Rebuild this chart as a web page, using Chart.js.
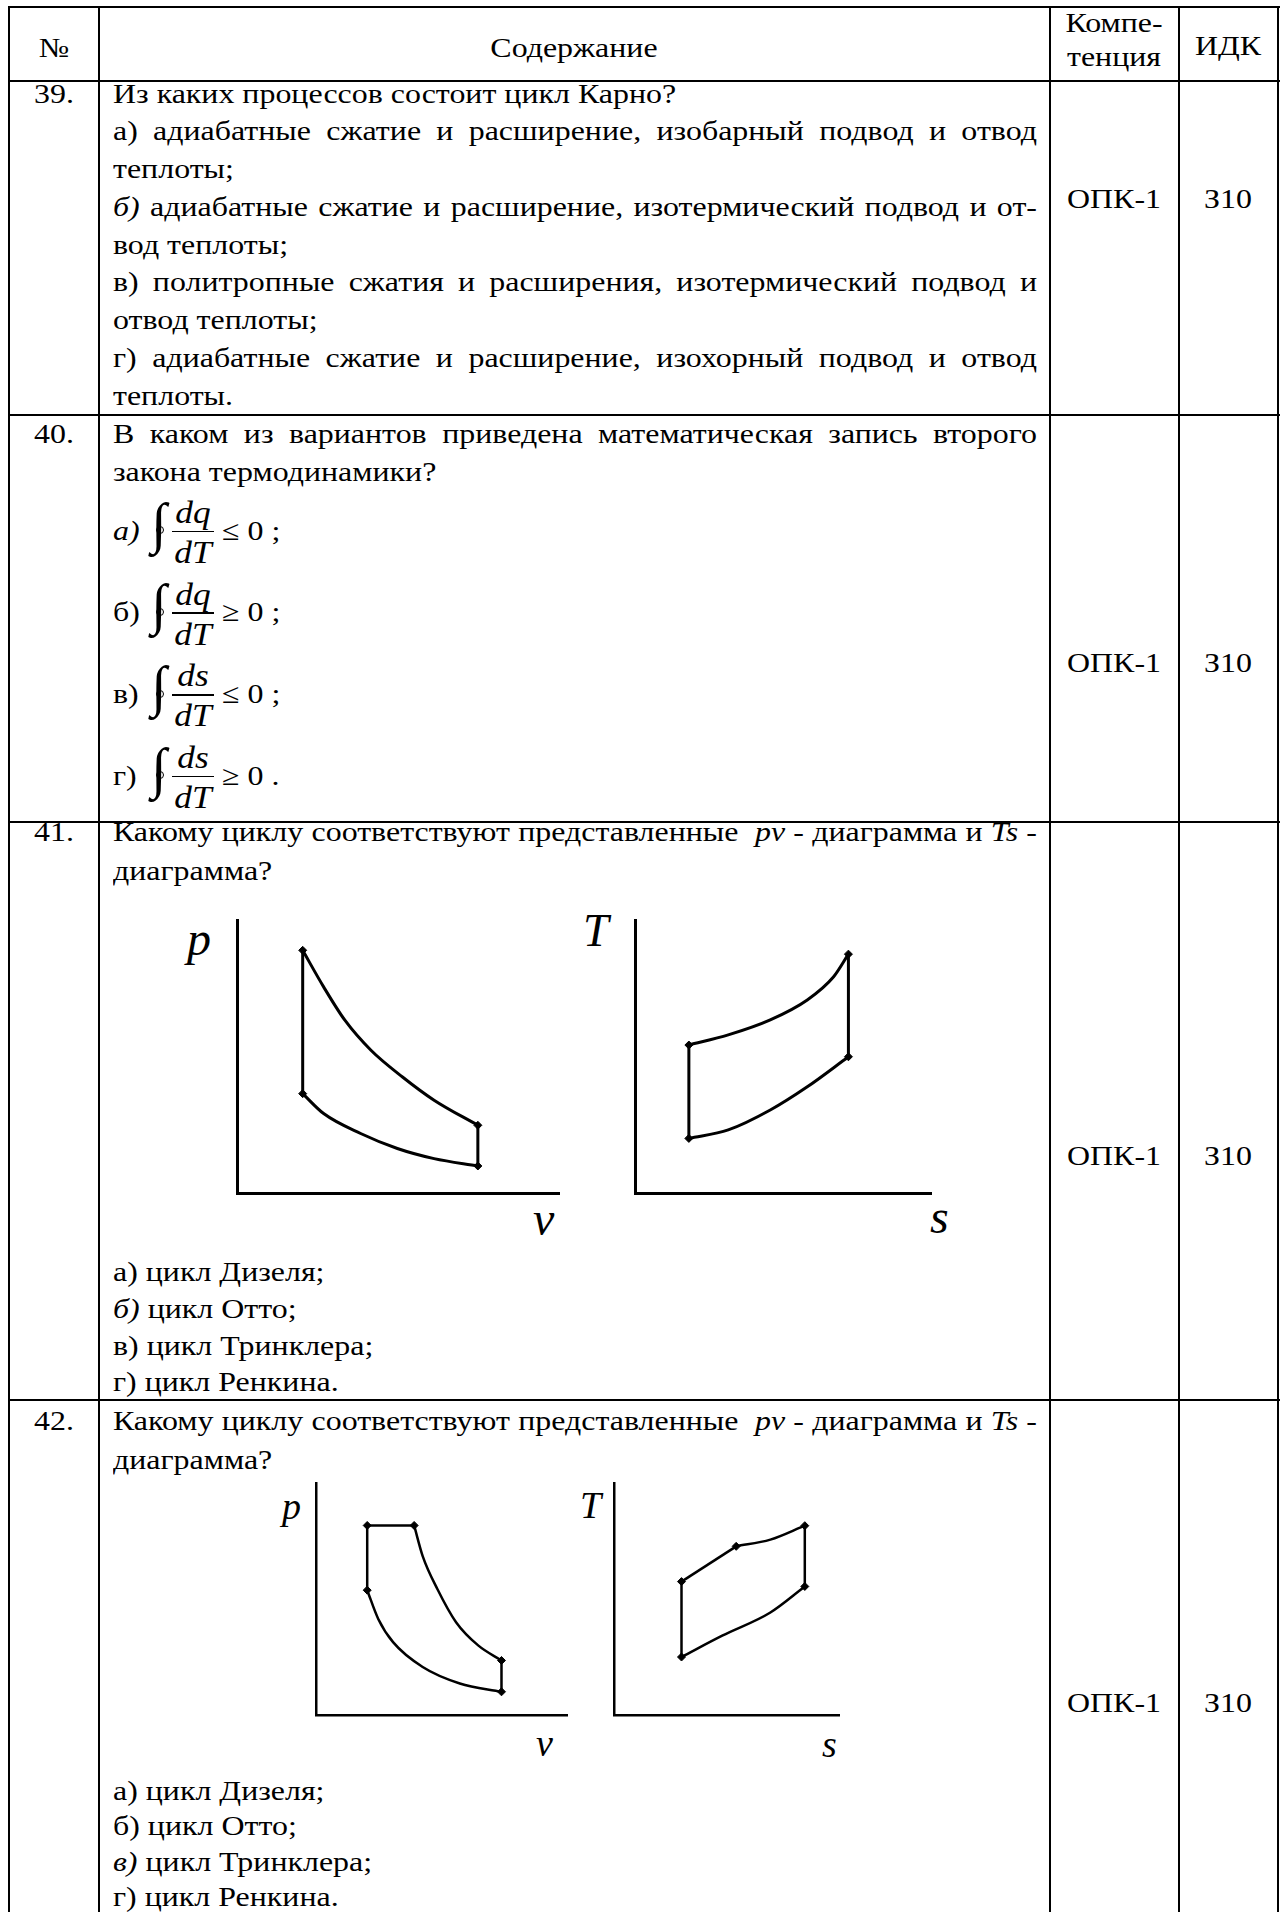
<!DOCTYPE html>
<html>
<head>
<meta charset="utf-8">
<script src="https://cdn.jsdelivr.net/npm/chart.js@4.4.0/dist/chart.umd.min.js"></script>
<style>
html, body { margin: 0; padding: 0; background: #fff; }
body { width: 1287px; height: 1912px; position: relative; overflow: hidden;
       font-family: "Liberation Serif", "Times New Roman", serif; color: #000; }
.hl { position: absolute; height: 2px; background: #000; }
.vl { position: absolute; width: 2px; background: #000; }
.t { position: absolute; white-space: nowrap; }
.j { white-space: normal; text-align: justify; text-align-last: justify; }
.ring { position: absolute; width: 6px; height: 6px; border: 1.6px solid #000; border-radius: 50%; }
.chart { position: absolute; }
</style>
</head>
<body>
<div id="page"></div>
<script>
// Otto cycle (question 41), pv-diagram
var ottoPvCorners = [[2.04, 8.89], [2.04, 3.64], [7.48, 2.48], [7.48, 0.99]];
var ottoPvExpansion = [[2.04, 8.89], [2.69, 7.55], [3.35, 6.33], [4.16, 5.23], [5.14, 4.25], [6.12, 3.40], [7.48, 2.48]];
var ottoPvCompression = [[2.04, 3.64], [2.69, 2.91], [3.84, 2.18], [4.98, 1.63], [6.12, 1.26], [7.48, 0.99]];

// Otto cycle, Ts-diagram
var ottoTsCorners = [[1.82, 5.42], [7.21, 8.75], [7.21, 4.99], [1.82, 2.00]];
var ottoTsHeatIn = [[1.82, 5.42], [3.15, 5.79], [4.57, 6.34], [5.82, 7.07], [6.71, 7.92], [7.21, 8.75]];
var ottoTsHeatOut = [[1.82, 2.00], [3.15, 2.31], [4.57, 3.04], [5.82, 3.89], [7.21, 4.99]];

// Trinkler cycle (question 42), pv-diagram
var trinklerPvCorners = [[2.04, 8.17], [3.91, 8.17], [7.39, 2.35], [7.39, 1.00], [2.04, 5.38]];
var trinklerPvExpansion = [[3.91, 8.17], [4.25, 6.85], [4.84, 5.42], [5.58, 4.00], [6.46, 3.00], [7.39, 2.35]];
var trinklerPvCompression = [[2.04, 5.38], [2.48, 4.14], [3.07, 3.14], [4.25, 2.07], [5.73, 1.36], [7.39, 1.00]];

// Trinkler cycle, Ts-diagram
var trinklerTsCorners = [[3.00, 5.75], [5.43, 7.27], [8.48, 8.16], [8.48, 5.54], [3.00, 2.50]];
var trinklerTsIsobar = [[5.43, 7.27], [6.95, 7.56], [8.48, 8.16]];
var trinklerTsHeatOut = [[3.00, 2.50], [4.81, 3.42], [6.95, 4.42], [8.48, 5.54]];

var page = document.getElementById("page");
var FS = 28;     // glyph height of the body text
var SX = 1.14;   // the scan is a bit wider than tall

function put(html, x, base, o) {
    o = o || {};
    var fs = o.size || FS;
    var sx = o.plain ? 1 : SX;
    var d = document.createElement("div");
    d.className = "t" + (o.cls ? " " + o.cls : "");
    d.style.fontSize = fs + "px";
    d.style.lineHeight = fs + "px";
    d.style.top = (base - (o.asc || 0.8375) * fs) + "px";
    if (o.center !== undefined) {
        d.style.left = (o.center - 150) + "px";
        d.style.width = "300px";
        d.style.textAlign = "center";
        d.style.transformOrigin = "50% 0";
    } else {
        d.style.left = x + "px";
        d.style.transformOrigin = "0 0";
    }
    if (o.width) d.style.width = (o.width / sx) + "px";
    if (o.font) d.style.fontFamily = o.font;
    if (sx !== 1) d.style.transform = "scaleX(" + sx + ")";
    d.innerHTML = html;
    page.appendChild(d);
    return d;
}
function hline(y, x1, x2, h) {
    var d = document.createElement("div");
    d.className = "hl";
    h = h || 2;
    d.style.left = x1 + "px"; d.style.top = (y - h / 2) + "px";
    d.style.width = (x2 - x1 + 2) + "px"; d.style.height = h + "px";
    page.appendChild(d);
}
function vline(x, y1, y2) {
    var d = document.createElement("div");
    d.className = "vl";
    d.style.left = (x - 1) + "px"; d.style.top = y1 + "px"; d.style.height = (y2 - y1) + "px";
    page.appendChild(d);
}

// table grid
[7, 81, 415, 821.5, 1400].forEach(function (y) { hline(y, 8, 1278); });
[9, 99, 1050, 1179, 1278].forEach(function (x) { vline(x, 6, 1912); });

// header
put("№", 0, 57, { center: 54 });
put("Содержание", 0, 57, { center: 574 });
put("Компе-", 0, 32, { center: 1114 });
put("тенция", 0, 66, { center: 1114 });
put("ИДК", 0, 55, { center: 1228 });

var L = 113, W = 924, J = { cls: "j", width: W };

// 39
put("39.", 0, 103, { center: 54 });
var q39 = [
    ["Из каких процессов состоит цикл Карно?", false],
    ["а) адиабатные сжатие и расширение, изобарный подвод и отвод", true],
    ["теплоты;", false],
    ["<i>б)</i> адиабатные сжатие и расширение, изотермический подвод и от-", true],
    ["вод теплоты;", false],
    ["в) политропные сжатия и расширения, изотермический подвод и", true],
    ["отвод теплоты;", false],
    ["г) адиабатные сжатие и расширение, изохорный подвод и отвод", true],
    ["теплоты.", false]
];
q39.forEach(function (ln, k) { put(ln[0], L, 103 + k * 37.75, ln[1] ? J : {}); });

// 40
put("40.", 0, 443, { center: 54 });
put("В каком из вариантов приведена математическая запись второго", L, 443, J);
put("закона термодинамики?", L, 481.5);
function formula(label, num, rel, end, B) {
    put(label, L, B);
    put("∫", 151, B + 1.5, { size: 56, plain: true });
    var r = document.createElement("div");
    r.className = "ring";
    r.style.left = "155.5px"; r.style.top = (B - 13.6) + "px";
    page.appendChild(r);
    put("<i>" + num + "</i>", 0, B - 17, { center: 192.5, size: 31 });
    hline(B - 8.5, 172, 212, 1.6);
    put("<i>dT</i>", 0, B + 23, { center: 192.5, size: 31 });
    put(rel + " 0 " + end, 222, B);
}
formula("<i>а)</i>", "dq", "≤", ";", 540);
formula("б)", "dq", "≥", ";", 621.7);
formula("в)", "ds", "≤", ";", 703.3);
formula("г)", "ds", "≥", ".", 785);

// 41
var askLine = "Какому циклу соответствуют представленные&nbsp; <i>pv</i> - диаграмма и <i>Ts</i> -";
put("41.", 0, 841, { center: 54 });
put(askLine, L, 841, J);
put("диаграмма?", L, 880);
put("а) цикл Дизеля;", L, 1281.7);
put("<i>б)</i> цикл Отто;", L, 1318);
put("в) цикл Тринклера;", L, 1355);
put("г) цикл Ренкина.", L, 1391.7);

// 42
put("42.", 0, 1430, { center: 54 });
put(askLine, L, 1430, J);
put("диаграмма?", L, 1469);
put("а) цикл Дизеля;", L, 1800);
put("б) цикл Отто;", L, 1835);
put("<i>в)</i> цикл Тринклера;", L, 1871.7);
put("г) цикл Ренкина.", L, 1906.7);

// competence / indicator columns
[208, 672, 1165, 1712].forEach(function (b) {
    put("ОПК-1", 0, b, { center: 1114 });
    put("З10", 0, b, { center: 1228 });
});

// axis letters
put("<i>p</i>", 187, 955, { size: 48, plain: true });
put("<i>v</i>", 533, 1235, { size: 48, plain: true });
put("<i>T</i>", 583, 947, { size: 46, plain: true });
put("<i>s</i>", 930, 1233, { size: 48, plain: true });
put("<i>p</i>", 282, 1519, { size: 38, plain: true });
put("<i>v</i>", 536, 1756, { size: 38, plain: true });
put("<i>T</i>", 580, 1518, { size: 38, plain: true });
put("<i>s</i>", 822, 1757, { size: 38, plain: true });

function pts(a) { return a.map(function (p) { return { x: p[0], y: p[1] }; }); }

function diagram(box, lines, corners, lw) {
    var pad = 8;
    var cv = document.createElement("canvas");
    cv.width = Math.round(box.w + 2 * pad);
    cv.height = Math.round(box.h + 2 * pad);
    cv.className = "chart";
    cv.style.left = (box.x - pad) + "px";
    cv.style.top = (box.y - pad) + "px";
    page.appendChild(cv);

    var sets = lines.map(function (s) {
        return {
            data: pts(s.data), showLine: true, borderColor: "#000", borderWidth: lw,
            pointRadius: 0, fill: false, clip: false,
            tension: s.curve ? 0.4 : 0, cubicInterpolationMode: s.curve ? "monotone" : "default"
        };
    });
    sets.push({
        data: pts(corners), showLine: false, pointStyle: "rectRot", pointRadius: 4,
        backgroundColor: "#000", borderColor: "#000", borderWidth: 1, clip: false
    });

    var axis = {
        type: "linear", min: 0, max: 10,
        grid: { display: false, drawTicks: false },
        ticks: { display: false },
        border: { display: true, color: "#000", width: lw }
    };
    new Chart(cv, {
        type: "scatter",
        data: { datasets: sets },
        options: {
            responsive: false, animation: false, events: [],
            layout: { padding: pad },
            plugins: { legend: { display: false }, tooltip: { enabled: false } },
            scales: { x: axis, y: Object.assign({}, axis) }
        }
    });
}

diagram({ x: 236.7, y: 920, w: 322.3, h: 272.7 }, [
    { data: ottoPvExpansion, curve: true },
    { data: ottoPvCompression, curve: true },
    { data: [ottoPvCorners[0], ottoPvCorners[1]] },
    { data: [ottoPvCorners[2], ottoPvCorners[3]] }
], ottoPvCorners, 3);

diagram({ x: 635, y: 920, w: 295.6, h: 273 }, [
    { data: ottoTsHeatIn, curve: true },
    { data: ottoTsHeatOut, curve: true },
    { data: [ottoTsCorners[0], ottoTsCorners[3]] },
    { data: [ottoTsCorners[1], ottoTsCorners[2]] }
], ottoTsCorners, 3);

diagram({ x: 316.2, y: 1483, w: 250.8, h: 232 }, [
    { data: [trinklerPvCorners[0], trinklerPvCorners[1]] },
    { data: trinklerPvExpansion, curve: true },
    { data: [trinklerPvCorners[2], trinklerPvCorners[3]] },
    { data: trinklerPvCompression, curve: true },
    { data: [trinklerPvCorners[4], trinklerPvCorners[0]] }
], trinklerPvCorners, 2.5);

diagram({ x: 614.4, y: 1483, w: 224.6, h: 232 }, [
    { data: [trinklerTsCorners[0], trinklerTsCorners[1]] },
    { data: trinklerTsIsobar, curve: true },
    { data: [trinklerTsCorners[2], trinklerTsCorners[3]] },
    { data: trinklerTsHeatOut, curve: true },
    { data: [trinklerTsCorners[4], trinklerTsCorners[0]] }
], trinklerTsCorners, 2.5);
</script>
</body>
</html>
